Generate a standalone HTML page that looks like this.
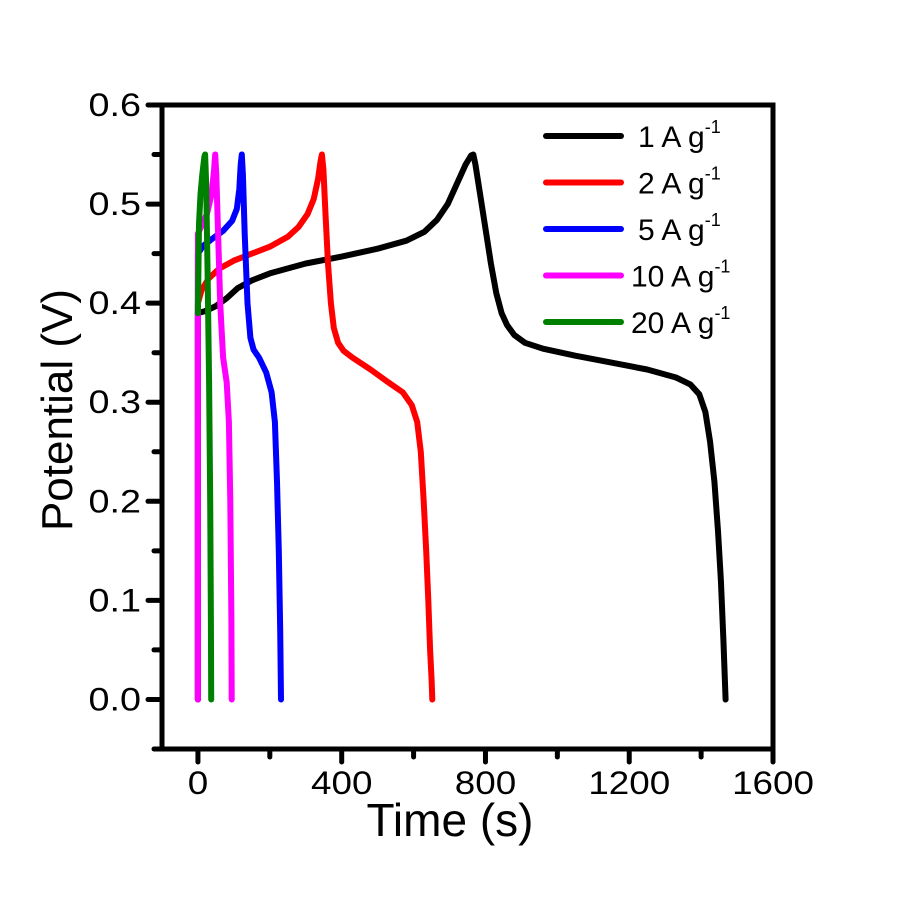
<!DOCTYPE html>
<html><head><meta charset="utf-8"><style>
body{margin:0;background:#fff}
svg{font-family:"Liberation Sans",Arial,sans-serif}
</style></head><body>
<svg id="chart" width="900" height="900" viewBox="0 0 900 900" xmlns="http://www.w3.org/2000/svg">
<g id="plot"></g>
</svg>
<script>
const xTicks=[0,400,800,1200,1600];
const yTicks=[0.0,0.1,0.2,0.3,0.4,0.5,0.6];
const seriesNames=["1 A g","2 A g","5 A g","10 A g","20 A g"];
const seriesColors=["#000000","#ff0000","#0000ff","#ff00ff","#008000"];
const s1t=[0,0,20,50,80,110,150,200,300,400,500,580,630,665,695,720,745,760,766,772,785,800,815,830,845,860,880,910,960,1050,1150,1250,1330,1370,1395,1412,1425,1437,1447,1455,1462,1468];
const s1v=[0,0.39,0.392,0.397,0.405,0.415,0.423,0.43,0.44,0.447,0.455,0.463,0.472,0.484,0.5,0.52,0.54,0.549,0.55,0.54,0.51,0.475,0.44,0.41,0.39,0.378,0.368,0.36,0.354,0.347,0.34,0.333,0.325,0.318,0.308,0.29,0.26,0.22,0.17,0.12,0.06,0.0];
const s2t=[0,0,10,30,60,100,150,200,250,280,305,322,334,341,345,349,355,362,370,378,390,405,430,480,530,570,595,610,620,628,635,641,646,650,652];
const s2v=[0,0.40,0.413,0.425,0.435,0.443,0.45,0.457,0.467,0.477,0.49,0.505,0.525,0.543,0.55,0.535,0.49,0.44,0.4,0.375,0.36,0.352,0.345,0.333,0.32,0.31,0.297,0.28,0.25,0.2,0.15,0.1,0.05,0.02,0];
const s3t=[0,0,15,40,70,95,108,115,119,122,125,130,138,146,155,170,190,205,214,220,225,229,231];
const s3v=[0,0.45,0.458,0.465,0.473,0.483,0.495,0.515,0.54,0.55,0.53,0.47,0.4,0.365,0.353,0.345,0.33,0.31,0.28,0.22,0.15,0.07,0];
const s4t=[0,0,10,25,38,45,48,51,56,62,70,80,86,90,93,94];
const s4v=[0,0.47,0.478,0.49,0.51,0.535,0.55,0.53,0.47,0.4,0.345,0.32,0.28,0.2,0.08,0];
const s5t=[0,0,3,7,12,18,20,23,27,31,34,36,37];
const s5v=[0.39,0.39,0.48,0.51,0.53,0.548,0.55,0.52,0.43,0.32,0.2,0.08,0];
const X0=162,X1=773,Y0=749,Y1=105,xmin=-100,xmax=1600,ymin=-0.05,ymax=0.6;
const sx=t=>X0+(t-xmin)/(xmax-xmin)*(X1-X0);
const sy=v=>Y0-(v-ymin)/(ymax-ymin)*(Y0-Y1);
const NS="http://www.w3.org/2000/svg";
const g=document.getElementById('plot');
function mk(tag,attrs){const e=document.createElementNS(NS,tag);for(const k in attrs)e.setAttribute(k,attrs[k]);g.appendChild(e);return e;}
const series=[[s1t,s1v],[s2t,s2v],[s3t,s3v],[s4t,s4v],[s5t,s5v]];
series.forEach((s,i)=>{
  const d=s[0].map((t,j)=>(j?'L':'M')+sx(t).toFixed(1)+','+sy(s[1][j]).toFixed(1)).join('');
  const p=mk('path',{d:d,fill:'none',stroke:seriesColors[i],'stroke-width':6,'stroke-linejoin':'round','stroke-linecap':'round'});
  
  
});
const fr=mk('rect',{x:X0,y:Y1,width:X1-X0,height:Y0-Y1,fill:'none',stroke:'#000','stroke-width':5});


for(let t=0;t<=1600;t+=200){
  const major=t%400===0;
  const tk=mk('line',{x1:sx(t),x2:sx(t),y1:Y0,y2:Y0+(major?13:8),stroke:'#000','stroke-width':5,'stroke-linecap':'round'});
  
  
}
xTicks.forEach(t=>{
  const e=mk('text',{x:0,y:0,'font-size':32,'text-anchor':'middle',transform:'translate('+sx(t)+','+(Y0+45)+') scale(1.15,1)'});
  e.textContent=t;
  
  
});
for(let k=-1;k<=12;k++){
  const v=k*0.05;const major=k%2===0;
  const tk=mk('line',{x1:X0,x2:X0-(major?14:8),y1:sy(v),y2:sy(v),stroke:'#000','stroke-width':5,'stroke-linecap':'round'});
  
  
}
yTicks.forEach(v=>{
  const e=mk('text',{x:0,y:0,'font-size':32,'text-anchor':'end',transform:'translate('+(X0-21)+','+(sy(v)+11)+') scale(1.18,1)'});
  e.textContent=v.toFixed(1);
  
  
});
const xt=mk('text',{x:450,y:836,'font-size':46,'text-anchor':'middle'});
xt.textContent='Time (s)';


const yt=mk('text',{x:72,y:410,'font-size':44,'text-anchor':'middle',transform:'rotate(-90 72 410)'});
yt.textContent='Potential (V)';


seriesNames.forEach((n,i)=>{
  const y=136+i*46.5;
  const l=mk('line',{x1:546,x2:621,y1:y,y2:y,stroke:seriesColors[i],'stroke-width':6,'stroke-linecap':'round'});
  
  
  const tx=mk('text',{x:i<3?638:631,y:y+11,'font-size':30});
  tx.textContent=n;
  const sup=document.createElementNS(NS,'tspan');
  sup.setAttribute('dy','-14');sup.setAttribute('font-size','18');
  sup.textContent='-1';
  tx.appendChild(sup);
  
  
});
</script>
</body></html>
